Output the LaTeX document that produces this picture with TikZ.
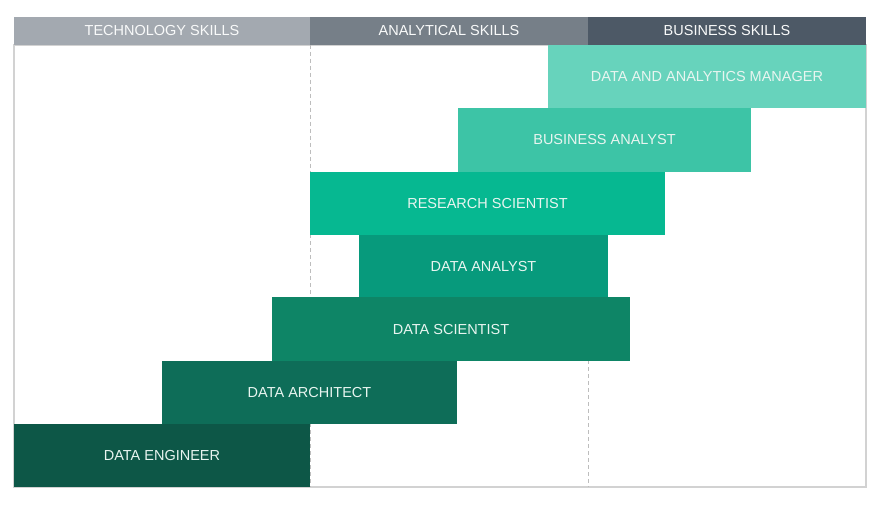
\documentclass[tikz,border=0pt]{standalone}
\usepackage{fontspec}
\setmainfont{Liberation Sans}
\definecolor{hdrA}{HTML}{A3A9B0}
\definecolor{hdrB}{HTML}{767F88}
\definecolor{hdrC}{HTML}{4D5966}
\definecolor{lvlA}{HTML}{67D3BC}
\definecolor{lvlB}{HTML}{3DC4A6}
\definecolor{lvlC}{HTML}{06B891}
\definecolor{lvlD}{HTML}{079A7C}
\definecolor{lvlE}{HTML}{0E8566}
\definecolor{lvlF}{HTML}{0E6D58}
\definecolor{lvlG}{HTML}{0D5747}
\definecolor{framegrey}{HTML}{D2D2D2}
\definecolor{dashgrey}{HTML}{BDBDBD}
\definecolor{labeltext}{HTML}{E8F5F0}
\begin{document}
\begin{tikzpicture}[x=1pt,y=-1pt,
  box/.style={rectangle, anchor=north west, inner sep=0pt, outer sep=0pt,
    draw=none, font=\fontsize{14.5}{16}\selectfont, text=labeltext},
  header/.style={box, minimum height=28pt, text=white!94!hdrA},
  rolebar/.style={box, minimum height=63.3pt},
  divider/.style={dashgrey, line width=1pt, dash pattern=on 4pt off 3pt}]
\useasboundingbox (0,0) rectangle (880,505);
\fill[white] (0,0) rectangle (880,505);

% frame of the chart area
\draw[framegrey, line width=1.4pt] (14,45) rectangle (866,487);

% column dividers
\coordinate (d1top) at (310,45);
\coordinate (d1bot) at (310,487);
\coordinate (d2top) at (588,45);
\coordinate (d2bot) at (588,487);
\draw[divider] (d1top) -- (d1bot);
\draw[divider] (d2top) -- (d2bot);

% column headers
\node[header, fill=hdrA, minimum width=296pt] (tech) at (14,17) {TECHNOLOGY SKILLS};
\node[header, fill=hdrB, minimum width=278pt] (anal) at (310,17) {ANALYTICAL SKILLS};
\node[header, fill=hdrC, minimum width=278pt] (bus) at (588,17) {BUSINESS SKILLS};

% role bars
\node[rolebar, fill=lvlA, minimum width=318pt] (mgr) at (548,45) {DATA AND ANALYTICS MANAGER};
\node[rolebar, fill=lvlB, minimum width=293pt] (ba) at (458,108.3) {BUSINESS ANALYST};
\node[rolebar, fill=lvlC, minimum width=355pt] (rs) at (310,171.6) {RESEARCH SCIENTIST};
\node[rolebar, fill=lvlD, minimum width=249pt] (da) at (359,234.9) {DATA ANALYST};
\node[rolebar, fill=lvlE, minimum width=358pt] (ds) at (272,297.4) {DATA SCIENTIST};
\node[rolebar, fill=lvlF, minimum width=295pt] (arch) at (162,360.7) {DATA ARCHITECT};
\node[rolebar, fill=lvlG, minimum width=296pt] (eng) at (14,423.7) {DATA ENGINEER};
\end{tikzpicture}
\end{document}
